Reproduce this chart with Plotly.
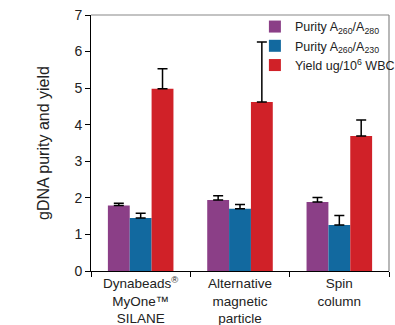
import plotly.graph_objects as go

categories = ["Dynabeads<sup>®</sup><br>MyOne™<br>SILANE", "Alternative<br>magnetic<br>particle", "Spin<br>column"]
series_names = ["Purity A<sub>260</sub>/A<sub>280</sub>", "Purity A<sub>260</sub>/A<sub>230</sub>", "Yield ug/10<sup>6</sup> WBC"]
purity_280 = [1.79, 1.94, 1.89]
purity_280_err = [0.06, 0.12, 0.12]
purity_230 = [1.45, 1.70, 1.26]
purity_230_err = [0.13, 0.12, 0.26]
yield_wbc = [4.98, 4.62, 3.69]
yield_wbc_err = [0.55, 1.64, 0.44]
colors = ["#8B3F87", "#12699F", "#D02128"]

fig = go.Figure()
for name, vals, errs, col in zip(series_names, [purity_280, purity_230, yield_wbc],
                                  [purity_280_err, purity_230_err, yield_wbc_err], colors):
    fig.add_trace(go.Bar(
        x=categories, y=vals, name=name, marker=dict(color=col, line=dict(width=0)),
        error_y=dict(type="data", array=errs, arrayminus=[0]*len(errs), symmetric=False,
                     color="black", thickness=1.5, width=5),
    ))

fig.update_layout(
    width=395, height=325, barmode="group", bargap=0.34, bargroupgap=0,
    margin=dict(l=91, r=6, t=15, b=54, autoexpand=False),
    plot_bgcolor="white", paper_bgcolor="white",
    font=dict(family="Liberation Sans, Arial, sans-serif", color="#222", size=13),
    legend=dict(x=0.55, y=1.012, xanchor="left", yanchor="top", bgcolor="rgba(0,0,0,0)",
                font=dict(size=12.5), tracegroupgap=0, itemwidth=30),
    showlegend=True,
)
fig.update_xaxes(showline=True, linecolor="black", linewidth=1, mirror=False,
                 range=[-0.5, len(categories) - 0.5],
                 ticks="outside", tickson="boundaries", ticklen=5, tickcolor="black",
                 tickfont=dict(size=13.5), tickangle=0, automargin=False)
fig.update_yaxes(range=[0, 7], dtick=1, showline=True, linecolor="black", linewidth=1,
                 ticks="outside", ticklen=5, tickcolor="black", showgrid=False, zeroline=False,
                 title=dict(text="gDNA purity and yield", font=dict(size=16), standoff=20),
                 tickfont=dict(size=14), automargin=False)
fig.add_shape(type="line", xref="paper", yref="paper", x0=0, x1=1, y0=1, y1=1,
              line=dict(color="#888", width=1.2))
fig.add_shape(type="line", xref="paper", yref="paper", x0=1, x1=1, y0=0, y1=1,
              line=dict(color="#888", width=1.2))

fig.write_html("out.html")
